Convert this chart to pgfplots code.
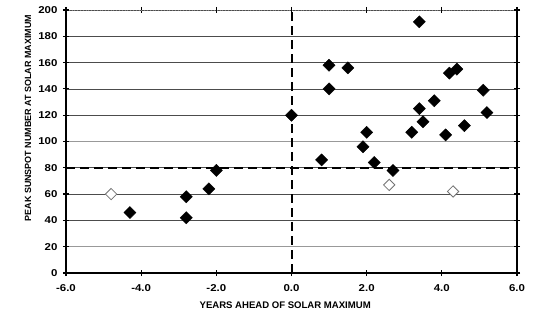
\documentclass[border=0pt]{standalone}
\usepackage{pgfplots}
\pgfplotsset{compat=1.18}
\usepackage{fontspec}
\setmainfont{Liberation Sans}[BoldFont={Liberation Sans Bold}]
\newfontfamily\tickfont{Liberation Sans Bold}[FakeStretch=1.15]
\begin{document}
\begin{tikzpicture}
\path[use as bounding box] (-66bp,-47bp) rectangle (470bp,273bp);
\begin{axis}[
  at={(0,0)}, anchor=south west,
  scale only axis, width=451bp, height=263bp,
  xmin=-6, xmax=6, ymin=0, ymax=200,
  axis line style={draw=none},
  xtick={-6,-4,...,6},
  ytick={0,40,60,80,120,140,160,180,200},
  extra y ticks={20,100},
  extra y tick style={grid style={draw=black!40, line width=1.4bp}},
  ymajorgrids,
  grid style={draw=black!70, line width=0.7bp},
  tick align=center, major tick length=6bp,
  tick style={black, line width=1.2bp},
  /pgf/number format/assume math mode=true,
  ticklabel style={font=\tickfont\fontsize{10}{12}\selectfont},
  xticklabel style={yshift=-5bp, /pgf/number format/.cd, fixed, fixed zerofill, precision=1},
  yticklabel style={xshift=-2bp},
  xlabel={YEARS AHEAD OF SOLAR MAXIMUM},
  ylabel={PEAK SUNSPOT NUMBER AT SOLAR MAXIMUM},
  every axis x label/.style={at={(rel axis cs:0.486,-0.122)}, anchor=center, font=\bfseries\fontsize{9.6}{11}\selectfont},
  every axis y label/.style={at={(rel axis cs:-0.084,0.589)}, rotate=90, anchor=center, font=\bfseries\fontsize{9}{10}\selectfont},
  clip=false,
]
\addplot[black, line width=2bp, dash pattern=on 9bp off 5bp] coordinates {(0,0) (0,200)};
\addplot[black, line width=2bp, dash pattern=on 9bp off 5bp] coordinates {(-6,80) (6,80)};
\addplot[only marks, mark=square*, mark size=4.3bp, mark options={rotate=45, fill=black, draw=black}] coordinates {
(-4.3,46) (-2.8,58) (-2.8,42) (-2.2,64) (-2.0,78)
(0.0,120) (0.8,86) (1.0,158) (1.0,140) (1.5,156)
(1.9,96) (2.0,107) (2.2,84) (2.7,78) (3.2,107)
(3.4,191) (3.4,125) (3.5,115) (3.8,131) (4.1,105)
(4.2,152) (4.4,155) (4.6,112) (5.1,139) (5.2,122)
};
\addplot[only marks, mark=square*, mark size=4bp, mark options={rotate=45, fill=white, draw=black!55, line width=0.8bp}] coordinates {
(-4.8,60) (2.6,67) (4.3,62)
};
\draw[black!50, dotted, line width=0.8bp] (rel axis cs:0,1) -- (rel axis cs:1,1);
\draw[line width=1.2bp] (rel axis cs:1,0) -- (rel axis cs:1,1);
\draw[line width=2bp] (rel axis cs:0,1) -- (rel axis cs:0,0) -- (rel axis cs:1,0);
\end{axis}
\end{tikzpicture}
\end{document}
